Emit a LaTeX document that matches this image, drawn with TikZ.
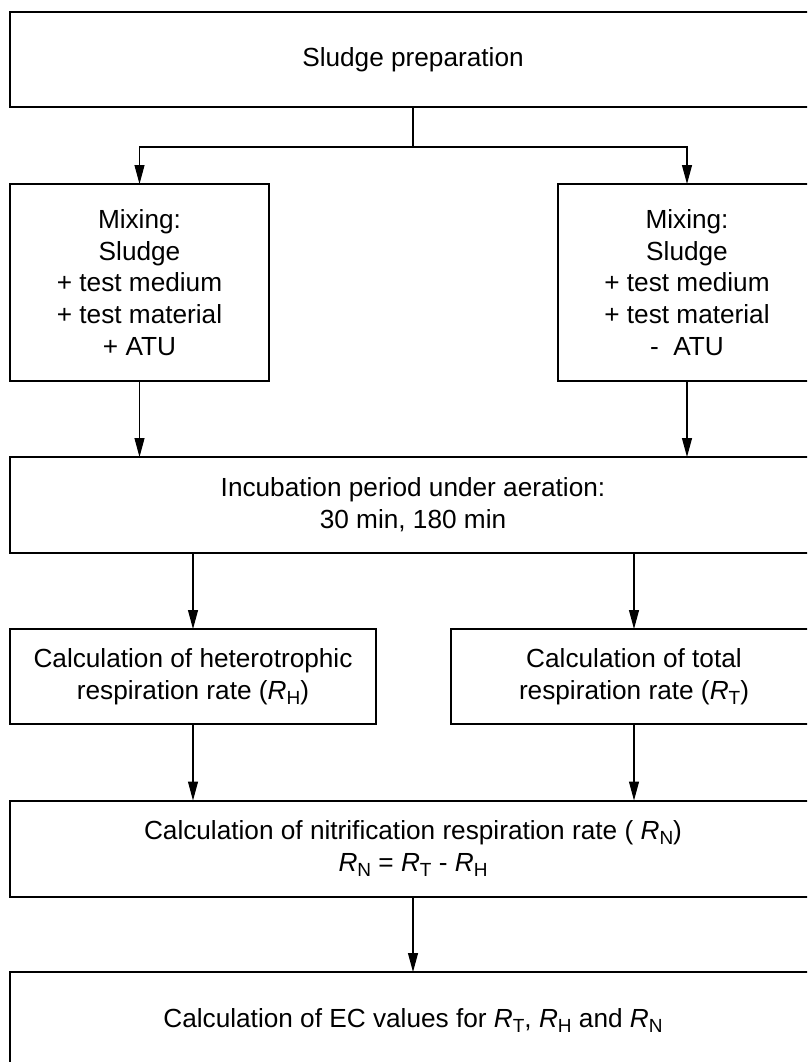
\documentclass[tikz,border=0pt]{standalone}
\usepackage{fontspec}
\setmainfont{Liberation Sans}
\usetikzlibrary{arrows.meta}
\tikzset{
  box/.style={draw=black, line width=2pt, inner sep=0pt, outer sep=0pt, align=center,
    font=\fontsize{26.2}{31.7}\selectfont, text=black},
  arr/.style={line width=1.1pt, -{Triangle[length=19pt,width=10pt]}},
  conn/.style={line width=1.1pt}
}
\newcommand{\Rs}[1]{\textit{R}\raisebox{-5pt}{\fontsize{19}{19}\selectfont #1}}
\begin{document}
\begin{tikzpicture}[x=1pt,y=-1pt]
\fill[white] (0,0) rectangle (807,1062);
\useasboundingbox (0,0) rectangle (807,1062);
\clip (0,0) rectangle (807,1062);
\node[box, minimum width=806pt, minimum height=95pt] (prep) at (413,59.5) {Sludge preparation};
\node[box, minimum width=259pt, minimum height=197pt] (mixL) at (139.5,282.5)
  {Mixing:\\Sludge\\+ test medium\\+ test material\\+ ATU};
\node[box, minimum width=259pt, minimum height=197pt] (mixR) at (687,282.5)
  {Mixing:\\Sludge\\+ test medium\\+ test material\\-\ \ ATU};
\node[box, minimum width=806pt, minimum height=96pt] (inc) at (413,505)
  {Incubation period under aeration:\\30 min, 180 min};
\node[box, minimum width=366pt, minimum height=95pt] (calcH) at (193,676.5)
  {Calculation of heterotrophic\\respiration rate (\Rs{H})};
\node[box, minimum width=366pt, minimum height=95pt] (calcT) at (634,676.5)
  {Calculation of total\\respiration rate (\Rs{T})};
\node[box, minimum width=806pt, minimum height=96pt] (nit) at (413,848.5)
  {Calculation of nitrification respiration rate ( \Rs{N})\\\Rs{N} = \Rs{T} - \Rs{H}};
\node[box, minimum width=806pt, minimum height=96pt] (ec) at (413,1020)
  {Calculation of EC values for \Rs{T}, \Rs{H} and \Rs{N}};
\coordinate (j) at (413,147);
\draw[conn] (prep.south) -- (j);
\draw[arr] (j) -| (mixL.north);
\draw[arr] (j) -| (mixR.north);
\draw[arr] (mixL.south) -- (mixL.south |- inc.north);
\draw[arr] (mixR.south) -- (mixR.south |- inc.north);
\draw[arr] (calcH.north |- inc.south) -- (calcH.north);
\draw[arr] (calcT.north |- inc.south) -- (calcT.north);
\draw[arr] (calcH.south) -- (calcH.south |- nit.north);
\draw[arr] (calcT.south) -- (calcT.south |- nit.north);
\draw[arr] (nit.south) -- (ec.north);
\end{tikzpicture}
\end{document}
